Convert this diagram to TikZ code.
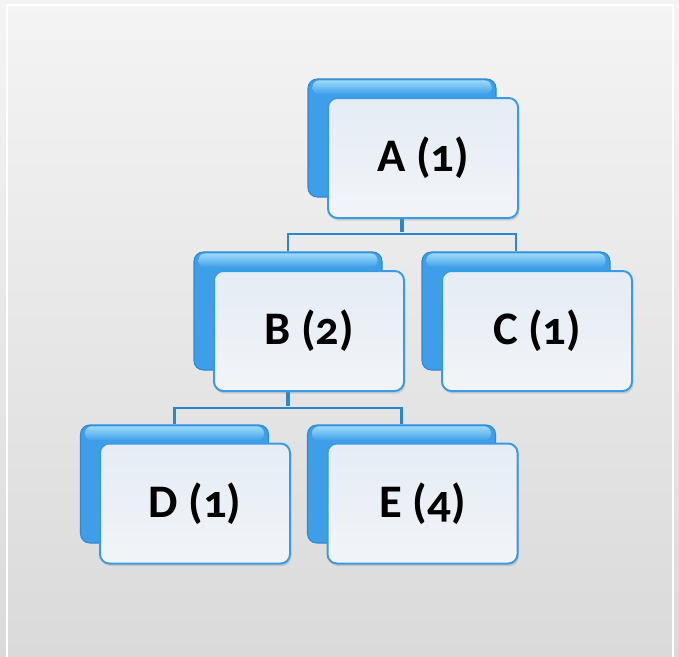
\documentclass[tikz,border=0pt]{standalone}
\usepackage{fontspec}
\setmainfont{Carlito}[Numbers=OldStyle]
\usetikzlibrary{shadows}
\definecolor{bgtop}{HTML}{F4F4F4}
\definecolor{bgbot}{HTML}{DADADA}
\definecolor{backfill}{HTML}{3F9EE8}
\definecolor{backhi}{HTML}{9ADAFB}
\definecolor{backline}{HTML}{2F8AD6}
\definecolor{fronttop}{HTML}{E5ECF5}
\definecolor{frontbot}{HTML}{F2F4F7}
\definecolor{frontline}{HTML}{3A9BE4}
\definecolor{connc}{HTML}{2C86CC}
\tikzset{
  backbox/.style={draw=backline, line width=0.8pt, rounded corners=7pt,
    fill=backfill,
    minimum width=141pt, minimum height=88.5pt, inner sep=0pt},
  backhilite/.style={rounded corners=5pt, top color=backhi, bottom color=backfill, draw=none},
  frontbox/.style={draw=frontline, line width=1.5pt, rounded corners=7pt,
    top color=fronttop, bottom color=frontbot,
    drop shadow={opacity=0.25, shadow xshift=1pt, shadow yshift=-2pt},
    minimum width=142.5pt, minimum height=90pt, inner sep=0pt,
    font=\fontsize{35}{42}\selectfont\bfseries},
  conn/.style={draw=connc, line width=1.6pt},
  stem/.style={draw=connc, line width=3pt}
}
\begin{document}
\begin{tikzpicture}[x=0.75pt,y=-0.75pt]
\useasboundingbox (0,0) rectangle (679,657);
\shade[top color=bgtop, bottom color=bgbot] (0,0) rectangle (679,657);
\draw[white, line width=1.8pt] (7,5) rectangle (673,665);
% junctions
\coordinate (jA) at (402,234);
\coordinate (jB) at (288,408);
% back boxes
\foreach \n/\x/\y in {Ab/402/138, Bb/288/311, Cb/516/311, Db/174.5/484, Eb/401.5/484}{
  \node[backbox] (\n) at (\x,\y) {};
  \shade[backhilite] ([shift={(5,2)}]\n.north west) rectangle ([shift={(-5,16)}]\n.north east);
}
% connectors
\draw[conn] (Bb.north) |- (jA) -| (Cb.north);
\draw[conn] (Db.north) |- (jB) -| (Eb.north);
\draw[stem] (402,216) -- ([yshift=1.5]jA);
\draw[stem] (288,388) -- ([yshift=1.5]jB);
% front boxes
\node[frontbox] (A) at (423,158) {A (1)};
\node[frontbox] (B) at (309,331) {B (2)};
\node[frontbox] (C) at (537,331) {C (1)};
\node[frontbox] (D) at (195,503.5) {D (1)};
\node[frontbox] (E) at (422.5,503.5) {E (4)};
\end{tikzpicture}
\end{document}
